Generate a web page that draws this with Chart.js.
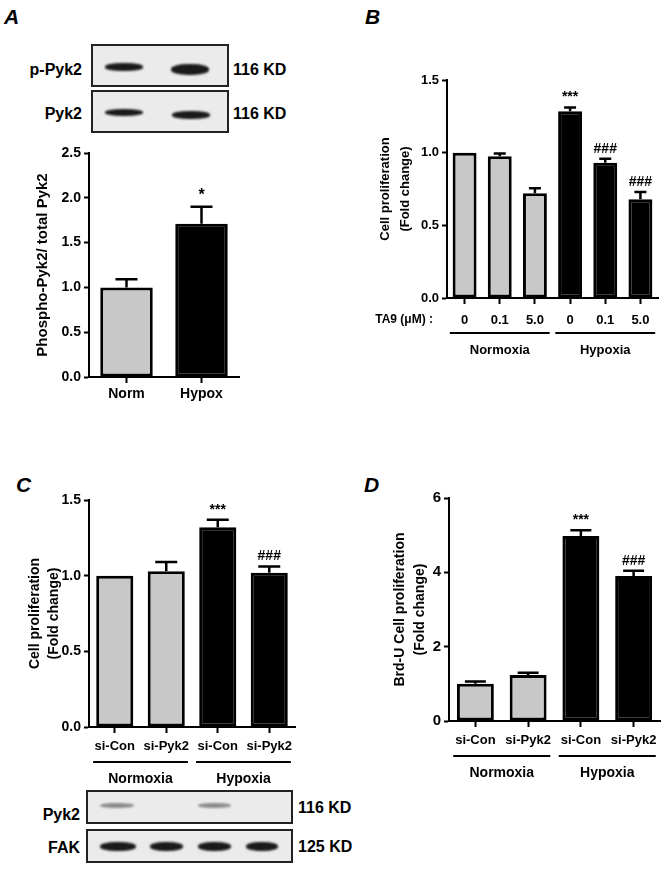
<!DOCTYPE html>
<html lang="en">
  <head>
    <meta charset="UTF-8" />
    <title>Pyk2 and hypoxia-induced proliferation</title>
    <script src="https://cdn.jsdelivr.net/npm/chart.js"></script>
    <style>
      * {
        margin: 0;
        padding: 0;
        box-sizing: border-box;
      }
      body {
        background: #ffffff;
        font-family: "Liberation Sans", Arial, sans-serif;
        font-weight: bold;
        color: #000;
      }
      #figure {
        position: relative;
        width: 666px;
        height: 870px;
      }
      canvas {
        position: absolute;
      }
      .letter {
        position: absolute;
        font-size: 21px;
        font-style: italic;
        line-height: 1;
      }
      .blot {
        position: absolute;
        border: 2px solid #222;
        background: #ebebeb;
        overflow: hidden;
      }
      .band {
        position: absolute;
        background: #1a1a1a;
        border-radius: 45%;
        filter: blur(0.8px);
      }
      .band.faint {
        background: #8a8a8a;
      }
      .lbl {
        position: absolute;
        font-size: 16px;
        line-height: 1;
        white-space: nowrap;
      }
      .lbl.right {
        text-align: right;
      }
    </style>
  </head>
  <body>
    <div id="figure">
      <div class="letter" style="left: 4px; top: 6px">A</div>
      <div class="letter" style="left: 365px; top: 6px">B</div>
      <div class="letter" style="left: 16px; top: 474px">C</div>
      <div class="letter" style="left: 364px; top: 474px">D</div>

      <!-- panel A blots -->
      <div class="lbl right" style="left: 0; width: 82px; top: 62px">p-Pyk2</div>
      <div class="blot" style="left: 91px; top: 44px; width: 138px; height: 43px">
        <span class="band" style="left: 12px; top: 17px; width: 38px; height: 8px"></span>
        <span class="band" style="left: 78px; top: 18px; width: 38px; height: 11px"></span>
      </div>
      <div class="lbl" style="left: 233px; top: 62px">116 KD</div>
      <div class="lbl right" style="left: 0; width: 82px; top: 106px">Pyk2</div>
      <div class="blot" style="left: 91px; top: 90px; width: 138px; height: 43px">
        <span class="band" style="left: 12px; top: 17px; width: 38px; height: 7px"></span>
        <span class="band" style="left: 79px; top: 19px; width: 38px; height: 8px"></span>
      </div>
      <div class="lbl" style="left: 233px; top: 106px">116 KD</div>

      <!-- panel C blots -->
      <div class="lbl right" style="left: 0; width: 80px; top: 807px">Pyk2</div>
      <div class="blot" style="left: 86px; top: 790px; width: 207px; height: 34px">
        <span class="band faint" style="left: 12px; top: 11px; width: 34px; height: 5px"></span>
        <span class="band faint" style="left: 110px; top: 11px; width: 33px; height: 5px"></span>
      </div>
      <div class="lbl" style="left: 298px; top: 800px">116 KD</div>
      <div class="lbl right" style="left: 0; width: 80px; top: 840px">FAK</div>
      <div class="blot" style="left: 86px; top: 829px; width: 207px; height: 34px">
        <span class="band" style="left: 12px; top: 11px; width: 36px; height: 9px"></span>
        <span class="band" style="left: 62px; top: 11px; width: 33px; height: 9px"></span>
        <span class="band" style="left: 110px; top: 11px; width: 33px; height: 9px"></span>
        <span class="band" style="left: 158px; top: 11px; width: 32px; height: 9px"></span>
      </div>
      <div class="lbl" style="left: 298px; top: 839px">125 KD</div>

      <canvas id="chartA" width="333" height="280" style="left: 0; top: 140px"></canvas>
      <canvas id="chartB" width="333" height="330" style="left: 333px; top: 50px"></canvas>
      <canvas id="chartC" width="333" height="330" style="left: 0; top: 460px"></canvas>
      <canvas id="chartD" width="333" height="330" style="left: 333px; top: 460px"></canvas>
    </div>

    <script>
      // A: phospho / total Pyk2
      const aLabels = ["Norm", "Hypox"];
      const aOxygen = ["Normoxia", "Hypoxia"];
      const aValues = [1.0, 1.71];
      const aErrors = [0.09, 0.19];
      const aMarks = ["", "*"];

      // B: TA9 dose, cell proliferation
      const bLabels = ["0", "0.1", "5.0", "0", "0.1", "5.0"];
      const bOxygen = ["Normoxia", "Normoxia", "Normoxia", "Hypoxia", "Hypoxia", "Hypoxia"];
      const bValues = [1.0, 0.975, 0.72, 1.285, 0.93, 0.68];
      const bErrors = [0, 0.02, 0.035, 0.026, 0.028, 0.05];
      const bMarks = ["", "", "", "***", "###", "###"];

      // C: siRNA, cell proliferation
      const cLabels = ["si-Con", "si-Pyk2", "si-Con", "si-Pyk2"];
      const cOxygen = ["Normoxia", "Normoxia", "Hypoxia", "Hypoxia"];
      const cValues = [1.0, 1.03, 1.32, 1.02];
      const cErrors = [0, 0.06, 0.05, 0.04];
      const cMarks = ["", "", "***", "###"];

      // D: siRNA, Brd-U proliferation
      const dLabels = ["si-Con", "si-Pyk2", "si-Con", "si-Pyk2"];
      const dOxygen = ["Normoxia", "Normoxia", "Hypoxia", "Hypoxia"];
      const dValues = [1.0, 1.24, 4.98, 3.9];
      const dErrors = [0.06, 0.06, 0.15, 0.14];
      const dMarks = ["", "", "***", "###"];

      const FONT = "'Liberation Sans', Arial, sans-serif";

      // error bars, significance marks, group brackets
      const annotate = {
        id: "annotate",
        afterDatasetsDraw(chart, args, opts) {
          const ctx = chart.ctx;
          const xs = chart.scales.x;
          const ys = chart.scales.y;
          const bars = chart.getDatasetMeta(0).data;
          ctx.save();
          ctx.strokeStyle = "#000";
          ctx.fillStyle = "#000";
          ctx.lineWidth = 2.5;
          bars.forEach((bar, i) => {
            const v = opts.values[i];
            const e = opts.errors[i];
            const top = ys.getPixelForValue(v + e);
            if (e > 0) {
              ctx.beginPath();
              ctx.moveTo(bar.x, ys.getPixelForValue(v));
              ctx.lineTo(bar.x, top);
              ctx.moveTo(bar.x - opts.cap / 2, top);
              ctx.lineTo(bar.x + opts.cap / 2, top);
              ctx.stroke();
            }
            if (opts.marks[i]) {
              ctx.font = "bold " + opts.markSize + "px " + FONT;
              ctx.textAlign = "center";
              ctx.textBaseline = "bottom";
              ctx.fillText(opts.marks[i], bar.x, top - 3);
            }
          });

          // group brackets from runs of the oxygen condition
          if (opts.groups) {
            const cw = (xs.right - xs.left) / opts.oxygen.length;
            const lineY = chart.chartArea.bottom + opts.groupLine;
            let start = 0;
            for (let i = 1; i <= opts.oxygen.length; i++) {
              if (i === opts.oxygen.length || opts.oxygen[i] !== opts.oxygen[start]) {
                const x0 = xs.getPixelForValue(start) - cw * 0.42;
                const x1 = xs.getPixelForValue(i - 1) + cw * 0.42;
                ctx.lineWidth = 2;
                ctx.beginPath();
                ctx.moveTo(x0, lineY);
                ctx.lineTo(x1, lineY);
                ctx.stroke();
                ctx.font = "bold " + opts.groupSize + "px " + FONT;
                ctx.textAlign = "center";
                ctx.textBaseline = "middle";
                ctx.fillText(opts.oxygen[start], (x0 + x1) / 2, lineY + 17);
                start = i;
              }
            }
          }

          if (opts.prefix) {
            ctx.font = "bold 12px " + FONT;
            ctx.textAlign = "right";
            ctx.textBaseline = "middle";
            ctx.fillText(opts.prefix, chart.chartArea.left - 14, chart.chartArea.bottom + 22);
          }
          ctx.restore();
        },
      };

      function barChart(id, p) {
        const colors = p.oxygen.map((o) => (o === "Hypoxia" ? "#000000" : "#c8c8c8"));
        return new Chart(document.getElementById(id), {
          type: "bar",
          data: {
            labels: p.labels,
            datasets: [
              {
                data: p.values,
                backgroundColor: colors,
                borderColor: "#000000",
                borderWidth: 3,
                borderSkipped: false,
                categoryPercentage: 1,
                barPercentage: p.barPct,
              },
            ],
          },
          options: {
            responsive: false,
            animation: false,
            devicePixelRatio: 1,
            layout: { padding: p.padding },
            plugins: {
              legend: { display: false },
              tooltip: { enabled: false },
              annotate: {
                values: p.values,
                errors: p.errors,
                marks: p.marks,
                cap: p.cap,
                markSize: p.markSize,
                oxygen: p.oxygen,
                groups: p.groups,
                groupLine: 35,
                groupSize: p.groupSize,
                prefix: p.prefix,
              },
            },
            scales: {
              x: {
                afterFit: (s) => {
                  s.height = p.xHeight;
                },
                grid: {
                  offset: false,
                  drawOnChartArea: false,
                  tickLength: 6,
                  tickWidth: 2,
                  tickColor: "#000",
                },
                border: { color: "#000", width: 2 },
                ticks: {
                  color: "#000",
                  padding: p.xPad,
                  maxRotation: 0,
                  autoSkip: false,
                  font: { family: FONT, weight: "bold", size: p.xSize },
                },
              },
              y: {
                min: 0,
                max: p.max,
                afterFit: (s) => {
                  s.width = p.yWidth;
                },
                grid: {
                  drawOnChartArea: false,
                  tickLength: 5,
                  tickWidth: 2,
                  tickColor: "#000",
                },
                border: { color: "#000", width: 2 },
                ticks: {
                  stepSize: p.step,
                  color: "#000",
                  padding: 3,
                  font: { family: FONT, weight: "bold", size: p.ySize },
                  callback: (v) => v.toFixed(p.decimals),
                },
                title: {
                  display: true,
                  text: p.title,
                  color: "#000",
                  padding: 0,
                  font: { family: FONT, weight: "bold", size: p.titleSize, lineHeight: p.titleLine },
                },
              },
            },
          },
          plugins: [annotate],
        });
      }

      barChart("chartA", {
        labels: aLabels, oxygen: aOxygen, values: aValues, errors: aErrors, marks: aMarks,
        max: 2.5, step: 0.5, decimals: 1, barPct: 0.7, cap: 22, markSize: 16,
        padding: { left: 34, top: 13, right: 94, bottom: 10 }, yWidth: 55, xHeight: 33,
        xPad: 3, xSize: 14, ySize: 14, title: "Phospho-Pyk2/ total Pyk2", titleSize: 15, titleLine: "18px",
        groups: false,
      });

      barChart("chartB", {
        labels: bLabels, oxygen: bOxygen, values: bValues, errors: bErrors, marks: bMarks,
        max: 1.5, step: 0.5, decimals: 1, barPct: 0.68, cap: 12, markSize: 14,
        padding: { left: 42, top: 30, right: 8, bottom: 10 }, yWidth: 72, xHeight: 72,
        xPad: 9, xSize: 13, ySize: 13, title: ["Cell proliferation", "(Fold change)"], titleSize: 13, titleLine: "20px",
        groups: true, groupSize: 13, prefix: "TA9 (\u03bcM) :",
      });

      barChart("chartC", {
        labels: cLabels, oxygen: cOxygen, values: cValues, errors: cErrors, marks: cMarks,
        max: 1.5, step: 0.5, decimals: 1, barPct: 0.72, cap: 22, markSize: 14,
        padding: { left: 26, top: 40, right: 38, bottom: 10 }, yWidth: 63, xHeight: 53,
        xPad: 6, xSize: 13, ySize: 14, title: ["Cell proliferation", "(Fold change)"], titleSize: 14, titleLine: "19px",
        groups: true, groupSize: 14,
      });

      barChart("chartD", {
        labels: dLabels, oxygen: dOxygen, values: dValues, errors: dErrors, marks: dMarks,
        max: 6, step: 2, decimals: 0, barPct: 0.7, cap: 21, markSize: 14,
        padding: { left: 57, top: 38, right: 6, bottom: 10 }, yWidth: 59, xHeight: 59,
        xPad: 6, xSize: 13, ySize: 15, title: ["Brd-U Cell proliferation", "(Fold change)"], titleSize: 14, titleLine: "20px",
        groups: true, groupSize: 14,
      });
    </script>
  </body>
</html>
